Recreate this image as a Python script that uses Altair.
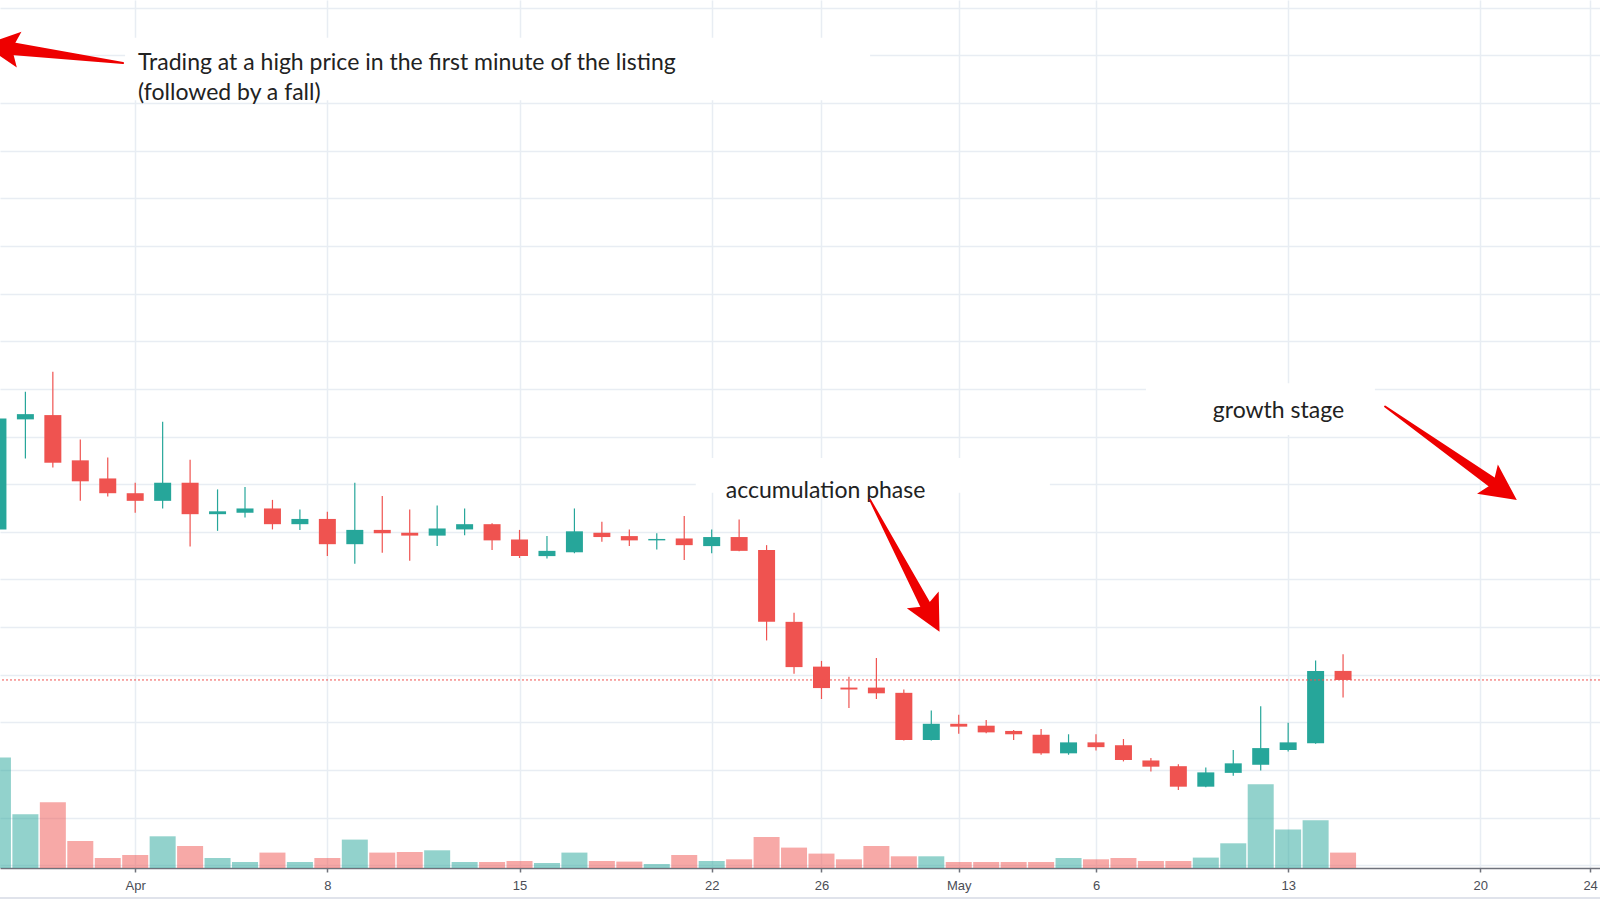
import math
import altair as alt
import pandas as pd

# ---------------- data ----------------
dates = pd.date_range("2019-03-27", periods=50, freq="D").strftime("%Y-%m-%d").tolist()

opens = [7.05, 9.36, 9.45, 8.50, 8.12, 7.81, 7.65, 8.03, 7.37, 7.40,
         7.49, 7.16, 7.27, 6.74, 7.04, 6.98, 6.92, 7.05, 7.16, 6.84,
         6.49, 6.57, 6.98, 6.91, 6.82, 6.86, 6.70, 6.89, 6.62, 5.11,
         4.17, 3.73, 3.73, 3.62, 2.63, 2.97, 2.93, 2.82, 2.74, 2.35,
         2.58, 2.52, 2.20, 2.08, 1.65, 1.94, 2.11, 2.42, 2.56, 4.08]
highs = [9.60, 9.94, 10.36, 8.94, 8.56, 8.03, 9.31, 8.51, 7.89, 7.94,
         7.67, 7.47, 7.42, 8.03, 7.75, 7.47, 7.55, 7.49, 7.18, 7.04,
         6.91, 7.49, 7.21, 7.05, 6.97, 7.33, 7.05, 7.26, 6.72, 5.30,
         4.29, 3.96, 4.35, 3.69, 3.25, 3.16, 3.05, 2.84, 2.86, 2.75,
         2.75, 2.65, 2.25, 2.12, 2.05, 2.42, 3.34, 2.99, 4.30, 4.43]
lows = [7.00, 8.54, 8.35, 7.65, 7.74, 7.40, 7.49, 6.69, 7.02, 7.30,
        7.05, 7.04, 6.49, 6.33, 6.56, 6.39, 6.70, 6.93, 6.62, 6.45,
        6.44, 6.55, 6.79, 6.70, 6.63, 6.41, 6.55, 6.59, 4.72, 4.02,
        3.49, 3.30, 3.49, 2.62, 2.62, 2.76, 2.77, 2.63, 2.32, 2.32,
        2.41, 2.18, 1.97, 1.58, 1.64, 1.88, 1.99, 2.39, 2.55, 3.52]
closes = [9.38, 9.47, 8.45, 8.06, 7.81, 7.65, 8.03, 7.37, 7.43, 7.49,
          7.16, 7.27, 6.74, 7.04, 6.97, 6.92, 7.07, 7.16, 6.82, 6.49,
          6.60, 7.01, 6.89, 6.82, 6.85, 6.72, 6.89, 6.60, 5.11, 4.16,
          3.72, 3.69, 3.61, 2.63, 2.97, 2.91, 2.79, 2.75, 2.35, 2.58,
          2.48, 2.21, 2.07, 1.65, 1.95, 2.14, 2.46, 2.58, 4.08, 3.89]
volumes = [1104, 537, 657, 270, 100, 130, 317, 220, 100, 60,
           154, 60, 100, 284, 154, 160, 177, 60, 60, 70,
           50, 154, 70, 64, 40, 130, 70, 87, 310, 204,
           144, 87, 220, 117, 117, 60, 60, 60, 60, 100,
           87, 100, 70, 70, 104, 247, 837, 384, 477, 154]

tick_dates = ["2019-04-01", "2019-04-08", "2019-04-15", "2019-04-22", "2019-04-26",
              "2019-05-01", "2019-05-06", "2019-05-13", "2019-05-20", "2019-05-24"]
price_grid = list(range(0, 19))

# annotations (positions in data space)
note_texts = ["Trading at a high price in the first minute of the listing",
              "(followed by a fall)", "accumulation phase", "growth stage"]
note_times = ["2019-04-01T02:30:00Z", "2019-04-01T02:30:00Z",
              "2019-04-26T03:35:00Z", "2019-05-12T15:30:00Z"]
note_prices = [16.84, 16.22, 7.86, 9.53]
note_align = ["left", "left", "center", "center"]

box_t1 = ["2019-03-31T15:10:00Z", "2019-04-21T10:05:00Z", "2019-05-07T19:40:00Z"]
box_t2 = ["2019-04-27T18:30:00Z", "2019-05-04T07:40:00Z", "2019-05-16T03:50:00Z"]
box_p1 = [16.06, 7.82, 9.03]
box_p2 = [17.37, 8.55, 10.12]

arrow_tail_t = ["2019-03-31T13:20:00Z", "2019-04-27T18:29:00Z", "2019-05-16T12:43:00Z"]
arrow_tail_p = [16.84, 7.67, 9.63]
arrow_tip_t = ["2019-03-26T11:20:00Z", "2019-04-30T07:12:00Z", "2019-05-21T07:55:00Z"]
arrow_tip_p = [17.22, 4.90, 7.67]
arrow_neck_w = [13, 11, 11]

# ---------------- layout ----------------
W, H = 1600, 868
x_start, x_end = "2019-03-27T01:48:00Z", "2019-05-24T08:38:00Z"
y_min, y_max = -0.057, 18.163
vol_max = 8680

UP, DOWN = "#26a69a", "#ef5350"
ARROW = "#ee0000"
TEXT_FONT, TEXT_SIZE = "Lato", 23


def ms(s):
    ts = pd.Timestamp(s)
    if ts.tzinfo is None:
        ts = ts.tz_localize("UTC")
    return int(ts.value // 10**6)


x_scale = alt.Scale(type="utc", domain=[ms(x_start), ms(x_end)], nice=False, padding=0)
y_price = alt.Scale(domain=[y_min, y_max], nice=False, zero=False, padding=0)
y_vol = alt.Scale(domain=[0, vol_max], nice=False, zero=True, padding=0)

x_axis = alt.Axis(
    values=[ms(d) for d in tick_dates],
    labelExpr="utcdate(datum.value) == 1 ? utcFormat(datum.value, '%b') : utcFormat(datum.value, '%-d')",
    title=None, grid=True, gridColor="#e8edf3", gridWidth=1.5,
    domainColor="#6f727b", domainWidth=1.5, tickColor="#6f727b", tickSize=4, tickWidth=1.5,
    labelFont="Liberation Sans", labelFontSize=13, labelColor="#4a4d56", labelPadding=7,
    labelFlush=False, labelOverlap=False,
)
y_grid_axis = alt.Axis(values=price_grid, labels=False, ticks=False, domain=False, grid=True,
                       gridColor="#e8edf3", gridWidth=1.5, title=None)

df = pd.DataFrame({"date": dates, "open": opens, "high": highs, "low": lows,
                   "close": closes, "volume": volumes})
df["dir"] = ["up" if c >= o else "down" for o, c in zip(opens, closes)]
color = alt.Color("dir:N", scale=alt.Scale(domain=["up", "down"], range=[UP, DOWN]), legend=None)

base = alt.Chart(df)
x_enc = alt.X("date:T", scale=x_scale, axis=x_axis)

volume = base.mark_bar(width=26, opacity=0.5).encode(
    x=x_enc, y=alt.Y("volume:Q", scale=y_vol, axis=None), color=color)

wicks = base.mark_rule(strokeWidth=1.2).encode(
    x=x_enc, y=alt.Y("low:Q", scale=y_price, axis=y_grid_axis), y2="high:Q", color=color)

bodies = base.mark_bar(width=17).encode(
    x=x_enc, y=alt.Y("open:Q", scale=y_price, axis=None), y2="close:Q", color=color)

# white boxes behind the annotation texts
boxes_df = pd.DataFrame({"t1": box_t1, "t2": box_t2, "p1": box_p1, "p2": box_p2})
boxes = alt.Chart(boxes_df).mark_rect(color="white").encode(
    x=alt.X("t1:T", scale=x_scale, axis=x_axis), x2="t2:T",
    y=alt.Y("p1:Q", scale=y_price, axis=None), y2="p2:Q")

last_price = alt.Chart(pd.DataFrame({"price": [closes[-1]]})).mark_rule(
    color=DOWN, strokeDash=[2, 2], strokeWidth=1).encode(
    y=alt.Y("price:Q", scale=y_price, axis=None))

notes_df = pd.DataFrame({"t": note_times, "p": note_prices, "text": note_texts, "align": note_align})
text_left = alt.Chart(notes_df[notes_df["align"] == "left"]).mark_text(
    font=TEXT_FONT, fontSize=TEXT_SIZE, color="#222222", align="left", baseline="middle").encode(
    x=alt.X("t:T", scale=x_scale, axis=x_axis), y=alt.Y("p:Q", scale=y_price, axis=None), text="text:N")
text_center = alt.Chart(notes_df[notes_df["align"] == "center"]).mark_text(
    font=TEXT_FONT, fontSize=TEXT_SIZE, color="#222222", align="center", baseline="middle").encode(
    x=alt.X("t:T", scale=x_scale, axis=x_axis), y=alt.Y("p:Q", scale=y_price, axis=None), text="text:N")

# arrows: tapered shaft (trail) + rotated head symbol
span_days = (ms(x_end) - ms(x_start)) / 86400000.0
px_day = W / span_days
px_price = H / (y_max - y_min)
HEAD_LEN = 36
trail_rows, head_rows = [], []
for i in range(len(arrow_tail_t)):
    tt, tp = ms(arrow_tail_t[i]), arrow_tail_p[i]
    ht, hp = ms(arrow_tip_t[i]), arrow_tip_p[i]
    dx = (ht - tt) / 86400000.0 * px_day
    dy = -(hp - tp) * px_price
    length = math.hypot(dx, dy)
    ang = math.degrees(math.atan2(dx, -dy)) % 360
    f = 26.0 / length
    neck_t = ht + (tt - ht) * f
    neck_p = hp + (tp - hp) * f
    trail_rows.append({"arrow": i, "ord": 0, "t": tt, "p": tp, "w": 2})
    trail_rows.append({"arrow": i, "ord": 1, "t": neck_t, "p": neck_p, "w": arrow_neck_w[i]})
    head_rows.append({"t": ht, "p": hp, "angle": ang})

trail_df = pd.DataFrame(trail_rows)
head_df = pd.DataFrame(head_rows)

shafts = alt.Chart(trail_df).mark_trail(color=ARROW).encode(
    x=alt.X("t:T", scale=x_scale, axis=x_axis), y=alt.Y("p:Q", scale=y_price, axis=None),
    size=alt.Size("w:Q", scale=None, legend=None), detail="arrow:N", order="ord:Q")

heads = alt.Chart(head_df).mark_point(
    shape="M0,0 L0.5,1 L0,0.8 L-0.5,1 Z", filled=True, size=(2 * HEAD_LEN) ** 2,
    color=ARROW, opacity=1, strokeWidth=0).encode(
    x=alt.X("t:T", scale=x_scale, axis=x_axis), y=alt.Y("p:Q", scale=y_price, axis=None),
    angle=alt.Angle("angle:Q", scale=None))

bottom_line = alt.Chart(pd.DataFrame({"a": [0]})).mark_rule(color="#e0e3eb", strokeWidth=2).encode(
    x=alt.value(0), x2=alt.value(W), y=alt.value(898))

chart = alt.layer(
    boxes, volume, wicks, bodies, last_price, text_left, text_center, shafts, heads, bottom_line
).resolve_scale(y="independent").properties(
    width=W, height=H,
    autosize=alt.AutoSizeParams(type="none"),
    padding={"left": 0, "top": 0, "right": 0, "bottom": 32},
    background="white",
).configure_view(strokeWidth=0)

chart.save("out.html", embed_options={"renderer": "svg", "actions": False})
